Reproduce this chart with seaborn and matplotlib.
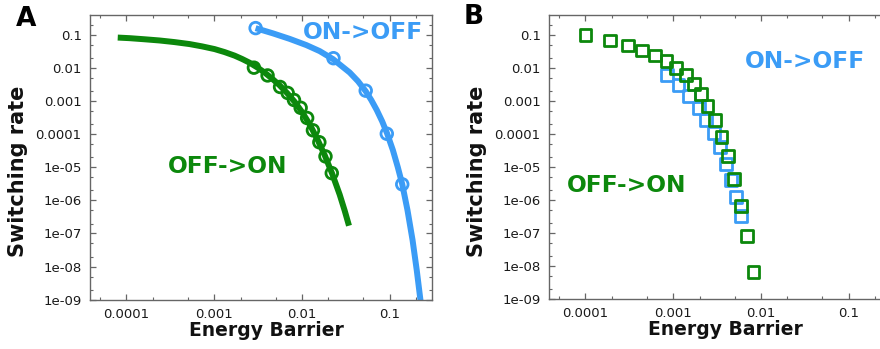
import matplotlib
matplotlib.use("Agg")
import matplotlib.pyplot as plt
import seaborn as sns
from matplotlib.ticker import FixedLocator, FixedFormatter, LogLocator, NullFormatter

# ---------------- data ----------------
# Panel A: fitted curves
a_off_on_line_x = [7.96e-5, 1.082e-4, 1.604e-4, 2.378e-4, 3.526e-4, 5.23e-4, 7.26e-4,
                   1.008e-3, 1.311e-3, 1.704e-3, 2.075e-3, 2.527e-3, 3.076e-3, 3.745e-3,
                   4.56e-3, 5.55e-3, 6.76e-3, 8.23e-3, 1.0025e-2, 1.221e-2, 1.486e-2,
                   1.810e-2, 2.204e-2, 2.684e-2, 3.060e-2, 3.425e-2]
a_off_on_line_y = [0.0828, 0.0795, 0.0736, 0.0677, 0.0605, 0.0527, 0.0449, 0.0372,
                   0.0302, 0.0236, 0.0187, 0.0144, 0.01046, 0.00728, 0.00476, 0.00300,
                   0.001744, 9.51e-4, 4.61e-4, 1.98e-4, 7.27e-5, 2.33e-5, 6.38e-6,
                   1.488e-6, 4.88e-7, 1.715e-7]
a_on_off_line_x = [2.958e-3, 4.66e-3, 7.22e-3, 1.119e-2, 1.588e-2, 2.251e-2, 3.490e-2,
                   4.340e-2, 5.312e-2, 6.136e-2, 7.089e-2, 8.190e-2, 9.292e-2, 0.1082,
                   0.1231, 0.1385, 0.1588, 0.1815, 0.2025, 0.2269]
a_on_off_line_y = [0.1595, 0.1110, 0.0757, 0.0491, 0.0323, 0.01852, 0.00728, 0.00397,
                   0.001977, 1.078e-3, 5.37e-4, 2.41e-4, 1.059e-4, 3.31e-5, 1.011e-5,
                   3.05e-6, 5.05e-7, 6.24e-8, 7.72e-9, 6.73e-10]
# Panel A: measured points
a_off_on_pts_x = [2.83e-3, 4.05e-3, 5.62e-3, 6.86e-3, 8.09e-3, 9.64e-3, 1.143e-2,
                  1.33e-2, 1.574e-2, 1.849e-2, 2.18e-2]
a_off_on_pts_y = [0.0102, 0.00594, 0.00267, 0.00176, 0.00108, 6.27e-4, 3.08e-4,
                  1.31e-4, 5.7e-5, 2.13e-5, 6.65e-6]
a_on_off_pts_x = [0.00296, 0.0228, 0.0531, 0.0923, 0.1384]
a_on_off_pts_y = [0.160, 0.0197, 0.00206, 1.03e-4, 3.05e-6]

# Panel B: points
b_off_on_x = [1.0e-4, 1.91e-4, 3.08e-4, 4.45e-4, 6.24e-4, 8.4e-4, 1.08e-3, 1.39e-3,
              1.73e-3, 2.07e-3, 2.46e-3, 2.98e-3, 3.55e-3, 4.22e-3, 4.93e-3, 5.87e-3,
              6.88e-3, 8.2e-3]
b_off_on_y = [0.1, 0.0673, 0.0475, 0.0336, 0.0237, 0.0160, 0.0098, 0.00589, 0.00331,
              0.00157, 6.8e-4, 2.58e-4, 8.1e-5, 2.1e-5, 4.2e-6, 6.6e-7, 8.0e-8, 6.5e-9]
b_on_off_x = [8.41e-4, 1.15e-3, 1.52e-3, 1.95e-3, 2.36e-3, 2.90e-3, 3.40e-3, 3.97e-3,
              4.58e-3, 5.16e-3, 5.88e-3]
b_on_off_y = [5.89e-3, 2.94e-3, 1.40e-3, 5.93e-4, 2.57e-4, 1.04e-4, 4.0e-5, 1.2e-5,
              3.96e-6, 1.24e-6, 3.18e-7]

x_ticks = [1e-4, 1e-3, 1e-2, 1e-1]
x_tick_labels = ["0.0001", "0.001", "0.01", "0.1"]
y_ticks = [1e-1, 1e-2, 1e-3, 1e-4, 1e-5, 1e-6, 1e-7, 1e-8, 1e-9]
y_tick_labels = ["0.1", "0.01", "0.001", "0.0001", "1e-05", "1e-06", "1e-07", "1e-08", "1e-09"]

GREEN = "#0c880c"
BLUE = "#3b9cf6"
SPINE = "#666666"

sns.set_theme(style="ticks")
plt.rcParams["font.family"] = ["DejaVu Sans"]

fig = plt.figure(figsize=(8.8, 3.49), dpi=100)
axA = fig.add_axes([90 / 880, 49 / 349, 342 / 880, 285 / 349])
axB = fig.add_axes([549 / 880, 50 / 349, 342 / 880, 284 / 349])


def style_axis(ax):
    ax.set_xscale("log")
    ax.set_yscale("log")
    ax.set_xlim(10 ** -4.415, 10 ** -0.52)
    ax.set_ylim(10 ** -9.01, 10 ** -0.40)
    ax.xaxis.set_major_locator(FixedLocator(x_ticks))
    ax.xaxis.set_major_formatter(FixedFormatter(x_tick_labels))
    ax.yaxis.set_major_locator(FixedLocator(y_ticks))
    ax.yaxis.set_major_formatter(FixedFormatter(y_tick_labels))
    ax.xaxis.set_minor_locator(LogLocator(base=10, subs=(2, 5), numticks=20))
    ax.yaxis.set_minor_locator(LogLocator(base=10, subs=(2, 5), numticks=20))
    ax.xaxis.set_minor_formatter(NullFormatter())
    ax.yaxis.set_minor_formatter(NullFormatter())
    ax.tick_params(which="both", direction="in", top=True, right=True,
                   color=SPINE, labelcolor="#1a1a1a", labelsize=9.5, pad=6)
    ax.tick_params(which="major", length=4, width=0.9)
    ax.tick_params(which="minor", length=2.5, width=0.8)
    for s in ax.spines.values():
        s.set_color(SPINE)
        s.set_linewidth(1.0)
    ax.set_xlabel("Energy Barrier", fontsize=13.5, fontweight="bold", color="#111111")
    ax.set_ylabel("Switching rate", fontsize=15, fontweight="bold", color="#111111")
    ax.xaxis.set_label_coords(0.515, -0.075)
    ax.yaxis.set_label_coords(-0.182, 0.451)


style_axis(axA)
style_axis(axB)

# Panel A
sns.lineplot(x=a_off_on_line_x, y=a_off_on_line_y, ax=axA, color=GREEN, linewidth=4.3,
             sort=False, estimator=None, solid_capstyle="butt", zorder=2)
sns.lineplot(x=a_on_off_line_x, y=a_on_off_line_y, ax=axA, color=BLUE, linewidth=4.3,
             sort=False, estimator=None, solid_capstyle="butt", zorder=2)
sns.scatterplot(x=a_off_on_pts_x, y=a_off_on_pts_y, ax=axA, marker="o", s=70,
                facecolor="none", edgecolor=GREEN, linewidth=2.0, zorder=3)
sns.scatterplot(x=a_on_off_pts_x, y=a_on_off_pts_y, ax=axA, marker="o", s=70,
                facecolor="none", edgecolor=BLUE, linewidth=2.0, zorder=3)
axA.text(0.798, 0.937, "ON->OFF", transform=axA.transAxes, color=BLUE, fontsize=16.8,
         fontweight="bold", ha="center", va="center")
axA.text(0.402, 0.467, "OFF->ON", transform=axA.transAxes, color=GREEN, fontsize=16.8,
         fontweight="bold", ha="center", va="center")

# Panel B
sns.scatterplot(x=b_on_off_x, y=b_on_off_y, ax=axB, marker="s", s=72,
                facecolor="none", edgecolor=BLUE, linewidth=2.0, zorder=3)
sns.scatterplot(x=b_off_on_x, y=b_off_on_y, ax=axB, marker="s", s=72,
                facecolor="none", edgecolor=GREEN, linewidth=2.0, zorder=4)
axB.text(0.749, 0.836, "ON->OFF", transform=axB.transAxes, color=BLUE, fontsize=16.8,
         fontweight="bold", ha="center", va="center")
axB.text(0.228, 0.399, "OFF->ON", transform=axB.transAxes, color=GREEN, fontsize=16.8,
         fontweight="bold", ha="center", va="center")

fig.text(26 / 880, 1 - 19 / 349, "A", fontsize=19, fontweight="bold", ha="center",
         va="center", color="#000000")
fig.text(474 / 880, 1 - 17 / 349, "B", fontsize=19, fontweight="bold", ha="center",
         va="center", color="#000000")

fig.savefig("out.png", dpi=100)
